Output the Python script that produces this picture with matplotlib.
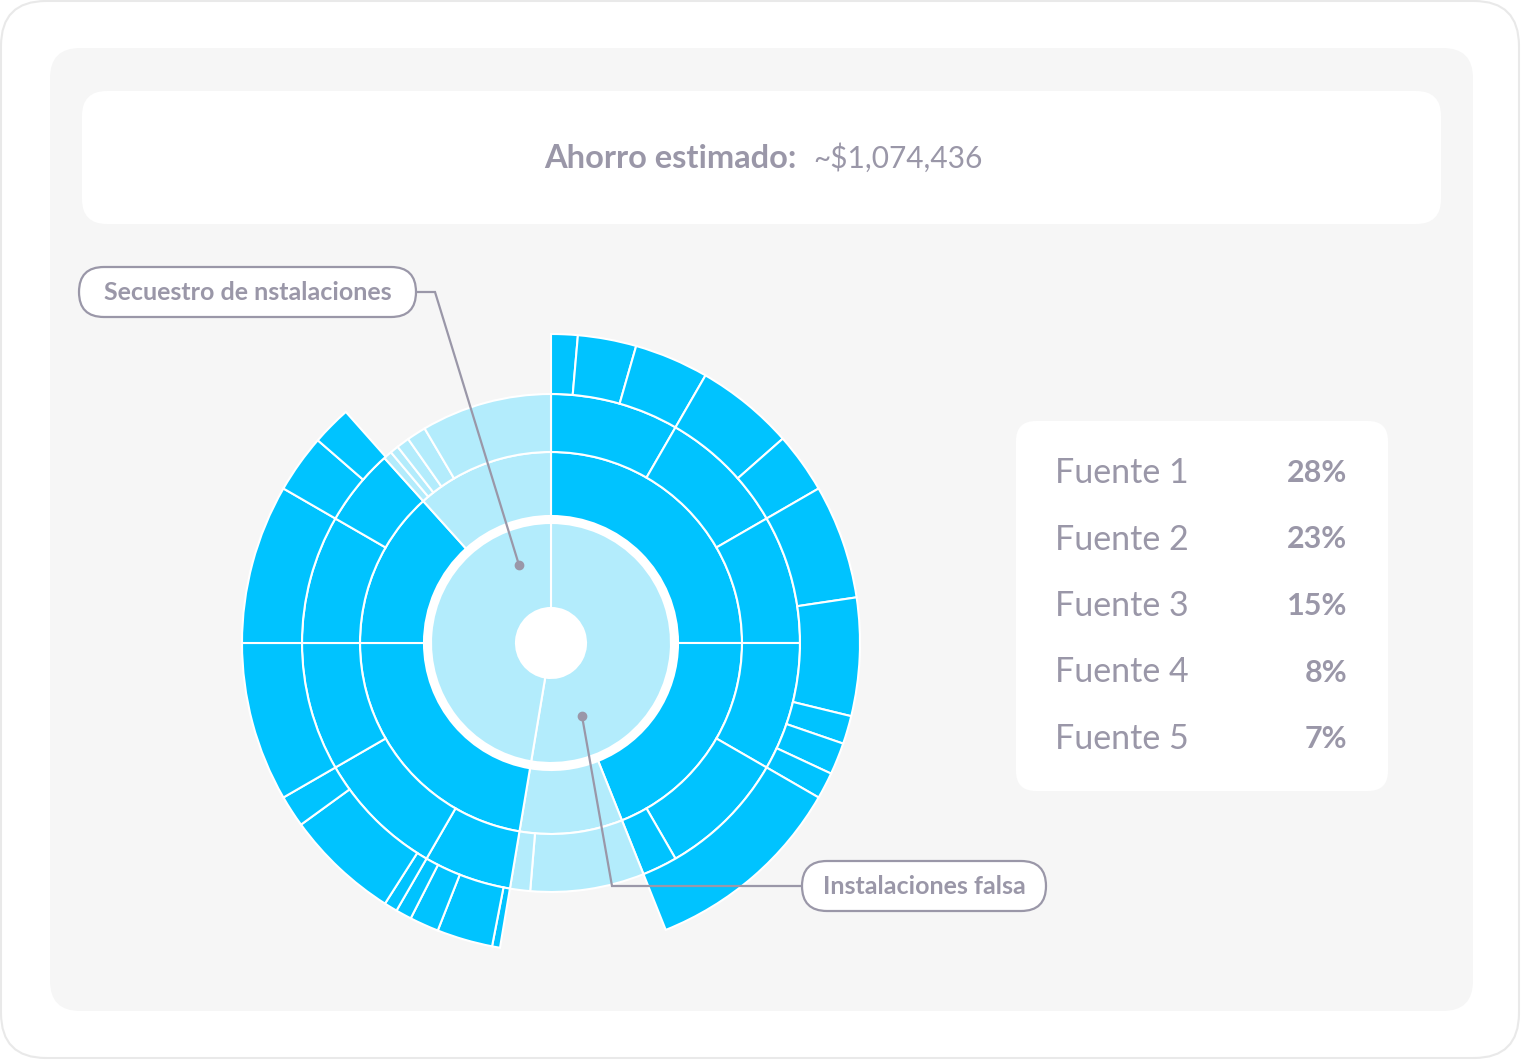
"""
Ahorro estimado: sunburst by fuente
"""

import matplotlib.pyplot as plt
from matplotlib.patches import Wedge, Circle, FancyBboxPatch

W, H = 1521, 1060

# ring segments, clockwise from 12 o'clock, value in degrees out of 360
# kind: 'd' = dark, 'l' = light, None = empty
ring1_vals = [189.5, 170.5]
ring1_kind = ['l', 'l']

ring2_vals = [90, 68.2, 31.3, 80.5, 48, 42]
ring2_kind = ['d', 'd', 'l', 'd', 'd', 'l']

ring3_vals = [30, 30, 30, 30, 30, 8.2, 26.6, 4.7,
              20.5, 30, 30, 30, 18, 2, 2, 3, 4.5, 30.5]
ring3_kind = ['d', 'd', 'd', 'd', 'd', 'd', 'l', 'l',
              'd', 'd', 'd', 'd', 'd', 'l', 'l', 'l', 'l', 'l']

ring4_vals = [5, 11, 14, 18.6, 11.4, 21.5, 22.2, 5.3, 6, 5, 38.2, 31.3,
              1.5, 10.5, 5.5, 3, 2.5, 21.5, 6, 30, 30, 11, 7.4, 41.6]
ring4_kind = ['d'] * 11 + [None] + ['d'] * 11 + [None]

fuentes = ['Fuente 1', 'Fuente 2', 'Fuente 3', 'Fuente 4', 'Fuente 5']
porcentajes = [28, 23, 15, 8, 7]

titulo = 'Ahorro estimado:'
ahorro = '~$1,074,436'
etiqueta_a = 'Secuestro de nstalaciones'
etiqueta_b = 'Instalaciones falsa'

DARK = '#00C3FF'
LIGHT = '#B3ECFC'
GRAY = '#9A97A8'
PANEL = '#F6F6F6'

plt.rcParams['font.family'] = ['Lato', 'DejaVu Sans']

fig = plt.figure(figsize=(W / 100, H / 100), dpi=100)
ax = fig.add_axes([0, 0, 1, 1])
ax.set_xlim(0, W)
ax.set_ylim(0, H)
ax.set_aspect('equal')
ax.axis('off')


def py(y):
    # picture y (top down) -> axes y
    return H - y


def rbox(x0, y0, x1, y1, r, fc, ec='none', lw=0, z=1):
    ax.add_patch(FancyBboxPatch((x0, py(y1)), x1 - x0, y1 - y0,
                                boxstyle='round,pad=0,rounding_size=%d' % r,
                                fc=fc, ec=ec, lw=lw, zorder=z))


# cards
rbox(1, 1, 1519, 1058, 45, 'white', '#E9E9E9', 1.5, 0)
rbox(50, 48, 1473, 1011, 30, PANEL, z=1)
rbox(82, 91, 1441, 224, 25, 'white', z=2)
rbox(1016, 421, 1388, 791, 20, 'white', z=2)

# header
ax.text(797, py(158), titulo, ha='right', va='center', fontsize=23.5,
        fontweight='bold', color=GRAY, zorder=5)
ax.text(813, py(158), ahorro, ha='left', va='center', fontsize=21.5,
        color=GRAY, zorder=5)

# legend
for i, (f, p) in enumerate(zip(fuentes, porcentajes)):
    y = py(473 + i * 66.5)
    ax.text(1055, y, f, ha='left', va='center', fontsize=24.5,
            color=GRAY, zorder=5)
    ax.text(1347, y, '%d%%' % p, ha='right', va='center', fontsize=22,
            fontweight='bold', color=GRAY, zorder=5)

# sunburst
cx, cy = 551, py(643)
rings = [(ring1_vals, ring1_kind, 35, 120),
         (ring2_vals, ring2_kind, 127, 191),
         (ring3_vals, ring3_kind, 191, 249),
         (ring4_vals, ring4_kind, 249, 309)]

ax.add_patch(Circle((cx, cy), 127, fc='white', ec='none', zorder=3))
for vals, kinds, r0, r1 in rings:
    start = 90.0
    for v, k in zip(vals, kinds):
        end = start - v
        if k is not None:
            ax.add_patch(Wedge((cx, cy), r1, end, start, width=r1 - r0,
                               fc=DARK if k == 'd' else LIGHT,
                               ec='white', lw=1.5, zorder=4))
        start = end
ax.add_patch(Circle((cx, cy), 35, fc='white', ec='none', zorder=4))


# callouts
def pill(x0, y0, x1, y1, text):
    rbox(x0, y0, x1, y1, (y1 - y0) // 2, 'white', GRAY, 1.6, 6)
    ax.text((x0 + x1) / 2, py((y0 + y1) / 2), text, ha='center', va='center',
            fontsize=18, fontweight='bold', color=GRAY, zorder=7)


ax.plot([519, 435, 416], [py(565), py(292), py(292)], color=GRAY, lw=1.6,
        zorder=5, solid_joinstyle='miter')
ax.plot([519], [py(565)], 'o', color=GRAY, ms=6, zorder=5)
pill(79, 267, 416, 317, etiqueta_a)

ax.plot([582, 612, 802], [py(716), py(886), py(886)], color=GRAY, lw=1.6,
        zorder=5, solid_joinstyle='miter')
ax.plot([582], [py(716)], 'o', color=GRAY, ms=6, zorder=5)
pill(802, 861, 1046, 911, etiqueta_b)

fig.savefig('out.png', dpi=100, facecolor='white')
